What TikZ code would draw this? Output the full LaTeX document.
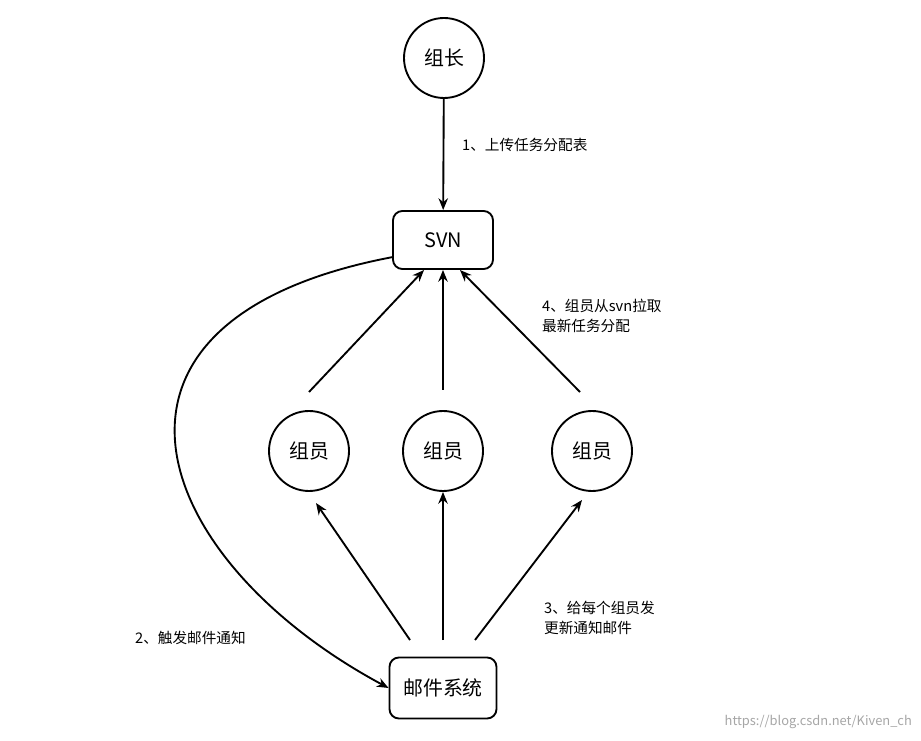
\documentclass[tikz,border=0pt]{standalone}
\usepackage{fontspec}
\setmainfont{Noto Sans CJK SC}
\usetikzlibrary{arrows.meta}
\begin{document}
\begin{tikzpicture}[x=0.03cm,y=-0.03cm,
  circ/.style={circle,draw,line width=1.6pt,minimum size=80*0.03cm,inner sep=0,font=\fontsize{17}{20}\selectfont},
  rbox/.style={rectangle,rounded corners=8pt,draw,line width=1.6pt,inner sep=0,font=\fontsize{17}{20}\selectfont},
  arr/.style={-{Stealth[length=10pt,width=8pt]},line width=1.6pt},
  lab/.style={font=\fontsize{12.5}{17}\selectfont,align=left,anchor=west}]
\useasboundingbox (0,0) rectangle (921,741);
\node[circ] (lead) at (444,58) {组长};
\node[rbox,minimum width=100*0.03cm,minimum height=58*0.03cm] (svn) at (443,240) {SVN};
\node[circ] (m1) at (309,451) {组员};
\node[circ] (m2) at (443,451) {组员};
\node[circ] (m3) at (592,451) {组员};
\node[rbox,minimum width=107*0.03cm,minimum height=61*0.03cm] (mail) at (443,688) {邮件系统};
\coordinate (s1) at (309,392);
\coordinate (s2) at (443,390);
\coordinate (s3) at (580,392);
\coordinate (t1) at (424,270);
\coordinate (t3) at (460,270);
\coordinate (e1) at (410,640);
\coordinate (e2) at (443,640);
\coordinate (e3) at (475,640);
\coordinate (c0) at (393,257);
\draw[arr] (lead) -- (svn);
\draw[arr] (s1) -- (t1);
\draw[arr] (s2) -- (svn.south);
\draw[arr] (s3) -- (t3);
\draw[arr] (e1) -- (316,503);
\draw[arr] (e2) -- (m2.south);
\draw[arr] (e3) -- (582,500);
\draw[arr] (c0) .. controls (60,320) and (150,560) .. (mail.west);
\node[lab] (l1) at (458,145) {1、上传任务分配表};
\node[lab] (l4) at (538,316) {4、组员从svn拉取\\最新任务分配};
\node[lab] (l3) at (540,618) {3、给每个组员发\\更新通知邮件};
\node[lab] (l2) at (131,638) {2、触发邮件通知};
\node[anchor=east,text=black!35,font=\fontsize{11}{13}\selectfont] (wm) at (916,722) {https://blog.csdn.net/Kiven\_ch};
\end{tikzpicture}
\end{document}
